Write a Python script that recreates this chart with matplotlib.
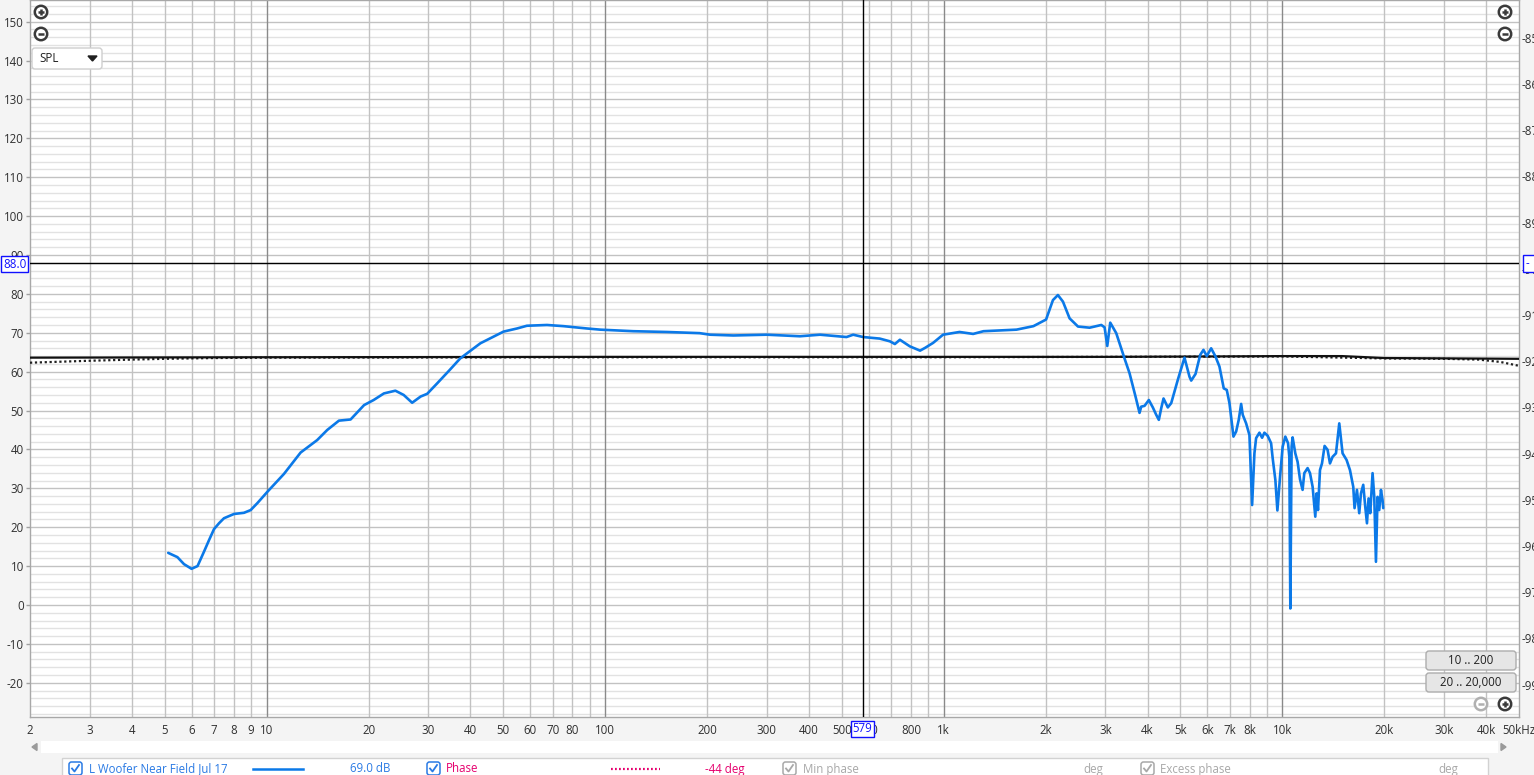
import matplotlib
matplotlib.use("Agg")
import matplotlib.pyplot as plt
from matplotlib.patches import FancyBboxPatch, Rectangle, Circle, Polygon

# ---------------- data ----------------
freq_hz = [5.12, 5.45, 5.70, 6.00, 6.25, 6.53, 6.76, 6.99, 7.23, 7.48, 8.01, 8.57, 8.97,
           9.39, 10.05, 11.25, 12.6, 14.1, 15.1, 16.35, 17.7, 19.4, 20.7, 22.2, 24.0,
           25.4, 26.9, 28.5, 29.8, 31.9, 34.7, 37.3, 42.8, 50.1, 54.9, 58.7, 67.3,
           75.3, 88.3, 96.6, 121, 152, 190, 204, 239, 300, 376, 431, 516, 540, 578,
           647, 693, 717, 742, 794, 851, 880, 930, 995, 1113, 1221, 1310, 1640, 1840,
           2005, 2101, 2173, 2249, 2353, 2491, 2696, 2919, 2985, 3040, 3102, 3231,
           3418, 3537, 3684, 3786, 3830, 3917, 4033, 4144, 4241, 4317, 4388, 4457,
           4589, 4696, 4912, 5140, 5318, 5380, 5540, 5719, 5848, 5980, 6162, 6345,
           6520, 6713, 6852, 6979, 7171, 7303, 7433, 7556, 7638, 7816, 7994, 8141,
           8270, 8365, 8556, 8713, 8851, 9051, 9263, 9364, 9537, 9668, 9845, 10020,
           10205, 10395, 10486, 10558, 10650, 10723, 10920, 11093, 11276, 11476,
           11610, 11873, 12069, 12285, 12511, 12623, 12743, 12917, 13094, 13328,
           13601, 13825, 14073, 14401, 14727, 15062, 15476, 15837, 16196, 16340,
           16609, 16869, 17068, 17335, 17572, 17780, 17973, 18182, 18470, 18684,
           18900, 19106, 19328, 19555, 19767, 19860]
spl_db = [13.4, 12.3, 10.5, 9.3, 10.0, 13.7, 16.7, 19.5, 21.0, 22.3, 23.4, 23.7, 24.4,
          26.2, 29.1, 33.7, 39.2, 42.4, 45.0, 47.4, 47.7, 51.4, 52.7, 54.4, 55.1,
          54.0, 52.0, 53.6, 54.3, 57.0, 60.4, 63.4, 67.3, 70.3, 71.1, 71.8, 72.0,
          71.7, 71.1, 70.8, 70.4, 70.2, 69.9, 69.5, 69.3, 69.5, 69.1, 69.5, 68.9,
          69.5, 68.9, 68.5, 67.8, 67.1, 68.2, 66.5, 65.4, 66.1, 67.4, 69.5, 70.2,
          69.7, 70.4, 70.8, 71.7, 73.4, 78.4, 79.7, 78.0, 73.7, 71.6, 71.3, 72.0,
          71.4, 66.6, 72.6, 69.9, 63.4, 59.6, 53.6, 49.4, 51.0, 51.2, 52.7, 50.8,
          48.9, 47.6, 50.6, 53.1, 50.8, 51.9, 57.9, 63.6, 58.7, 57.7, 59.4, 64.3,
          65.6, 64.0, 66.0, 63.9, 61.3, 55.7, 55.3, 51.9, 43.3, 44.6, 47.6, 51.7,
          48.9, 46.7, 43.7, 25.7, 39.0, 42.9, 44.3, 43.0, 44.3, 43.5, 41.6, 37.7,
          32.1, 24.3, 33.0, 40.7, 43.3, 41.6, 38.1, -0.9, 40.7, 43.1, 39.0, 36.8,
          32.3, 29.6, 33.9, 35.2, 33.9, 30.4, 22.7, 28.7, 24.4, 34.7, 36.4, 40.9,
          39.9, 36.4, 38.1, 39.0, 46.7, 39.0, 37.3, 34.7, 30.4, 24.9, 29.6, 23.6,
          28.7, 30.9, 25.3, 21.0, 27.4, 23.6, 33.9, 27.8, 11.1, 27.8, 24.4, 29.6,
          27.0, 24.9]

ref_freq = [2, 10, 100, 1000, 3000, 6000, 10000, 15000, 20000, 50000]
ref_db = [63.6, 63.7, 63.8, 63.8, 63.8, 63.9, 64.0, 64.0, 63.5, 63.3]
dot_freq = [2, 3, 4, 5, 7, 10, 100, 1000, 10000, 20000, 30000, 38000, 44000, 50000]
dot_db = [62.3, 62.8, 63.1, 63.3, 63.5, 63.6, 63.7, 63.7, 63.9, 63.4, 63.3, 63.1, 62.5, 61.5]

y_ticks = list(range(-20, 151, 10))
x_label_freqs = [2, 3, 4, 5, 6, 7, 8, 9, 10, 20, 30, 40, 50, 60, 70, 80, 100, 200, 300,
                 400, 500, 600, 800, 1000, 2000, 3000, 4000, 5000, 6000, 7000, 8000,
                 10000, 20000, 30000, 40000, 50000]
x_label_text = ['2', '3', '4', '5', '6', '7', '8', '9', '10', '20', '30', '40', '50', '60',
                '70', '80', '100', '200', '300', '400', '500', '600', '800', '1k', '2k',
                '3k', '4k', '5k', '6k', '7k', '8k', '10k', '20k', '30k', '40k', '50kHz']
right_ticks = [-85, -86, -87, -88, -89, -90, -91, -92, -93, -94, -95, -96, -97, -98, -99]
cursor_db = 88.0
cursor_hz = 579

# ---------------- figure ----------------
W, H = 1534, 775
plt.rcParams['font.family'] = ['Open Sans', 'DejaVu Sans']
fig = plt.figure(figsize=(W / 100, H / 100), dpi=100, facecolor='#f4f4f4')

L, R, T, B = 30, 1519, 0, 717
ax = fig.add_axes([L / W, (H - B) / H, (R - L) / W, (B - T) / H])
ax.set_facecolor('white')
ax.set_xscale('log')
ax.set_xlim(2, 50000)
ax.set_ylim(-28.81, 155.57)

# grid
for v in range(-28, 156, 2):
    if v % 10 == 0:
        ax.axhline(v, color='#c2c2c2', lw=1.0, zorder=1)
    else:
        ax.axhline(v, color='#e2e2e2', lw=1.0, zorder=0.5)
for dec in [1, 10, 100, 1000, 10000]:
    for m in range(1, 10):
        f = dec * m
        if f <= 2 or f >= 50000:
            continue
        if m == 1:
            ax.axvline(f, color='#8a8a8a', lw=1.0, zorder=1.2)
        else:
            ax.axvline(f, color='#c2c2c2', lw=1.0, zorder=1.1)

ax.set_xticks(x_label_freqs)
ax.set_xticklabels(x_label_text)
ax.xaxis.set_minor_locator(matplotlib.ticker.NullLocator())
ax.set_yticks(y_ticks)
ax.set_yticklabels([str(v) for v in y_ticks])
ax.tick_params(axis='x', length=0, pad=5, labelsize=8.3, colors='#303030')
ax.tick_params(axis='y', length=3, width=1, pad=1.5, labelsize=8.3, colors='#303030')
ax.tick_params(axis='y', color='#a0a0a0')
for s in ax.spines.values():
    s.set_color('#a8a8a8')
    s.set_linewidth(1)

# reference lines
ax.plot(dot_freq, dot_db, color='#202020', lw=1.6, ls=(0, (1, 1.2)), zorder=3)
ax.plot(ref_freq, ref_db, color='#111111', lw=1.6, zorder=3.1)

# measurement
ax.plot(freq_hz, spl_db, color='#0b79e8', lw=1.9, zorder=5,
        solid_joinstyle='round', solid_capstyle='round')

# cursors
ax.axhline(cursor_db, color='black', lw=1.0, zorder=6)
ax.axvline(cursor_hz, color='black', lw=1.0, zorder=6)

# right axis
tw = ax.twinx()
tw.set_ylim(-99.70, -84.18)
tw.set_yticks(right_ticks)
tw.set_yticklabels([str(v) for v in right_ticks])
tw.tick_params(axis='y', length=0, pad=2, labelsize=8.3, colors='#303030')
for s in tw.spines.values():
    s.set_visible(False)

# ---------------- overlay UI ----------------
ov = fig.add_axes([0, 0, 1, 1], zorder=20)
ov.set_xlim(0, W)
ov.set_ylim(H, 0)
ov.axis('off')


def zoom_icon(x, y, plus=True, col='#3a3a3a'):
    ov.add_patch(Circle((x, y), 6.2, facecolor='white', edgecolor=col, lw=1.8))
    ov.plot([x - 3.2, x + 3.2], [y, y], color=col, lw=1.8, solid_capstyle='butt')
    if plus:
        ov.plot([x, x], [y - 3.2, y + 3.2], color=col, lw=1.8, solid_capstyle='butt')


zoom_icon(41, 12, True)
zoom_icon(41, 34, False)
zoom_icon(1505, 12, True)
zoom_icon(1505, 34, False)
zoom_icon(1481, 704, False, col='#b0b0b0')
zoom_icon(1505, 704, True)

# SPL dropdown
ov.add_patch(FancyBboxPatch((32, 48), 70, 21, boxstyle='round,pad=0,rounding_size=3',
                            facecolor='white', edgecolor='#cfcfcf', lw=1))
ov.text(39, 59, 'SPL', fontsize=8.3, va='center', ha='left', color='#202020')
ov.add_patch(Polygon([[88, 56], [97, 56], [92.5, 61]], closed=True, color='#202020'))

# range buttons
for yb, lab in [(651, '10 .. 200'), (673, '20 .. 20,000')]:
    ov.add_patch(FancyBboxPatch((1426, yb), 90, 19, boxstyle='round,pad=0,rounding_size=3',
                                facecolor='#e6e6e6', edgecolor='#adadad', lw=1))
    ov.text(1471, yb + 9.8, lab, fontsize=8.3, ha='center', va='center', color='#202020')

# cursor value boxes
ov.text(14.5, 264, '88.0', fontsize=8.3, ha='center', va='center', color='#1010ff',
        bbox=dict(boxstyle='square,pad=0.15', facecolor='white', edgecolor='#1010ff', lw=1))
ov.text(862.5, 729, '579', fontsize=8.3, ha='center', va='center', color='#1010ff',
        bbox=dict(boxstyle='square,pad=0.15', facecolor='white', edgecolor='#1010ff', lw=1))
ov.add_patch(Rectangle((1523, 255), 14, 17, facecolor='white', edgecolor='#1010ff', lw=1))
ov.text(1526, 264, '-', fontsize=8.3, ha='left', va='center', color='#1010ff')

# scroll bar
ov.add_patch(Rectangle((41, 741), 1457, 12, facecolor='white', edgecolor='none'))
ov.add_patch(Polygon([[32, 747], [37, 743.5], [37, 750.5]], closed=True, color='#9a9a9a'))
ov.add_patch(Polygon([[1506, 747], [1501, 743.5], [1501, 750.5]], closed=True, color='#9a9a9a'))

# legend panel
ov.add_patch(Rectangle((62, 757.5), 1426, 30, facecolor='white', edgecolor='#d2d2d2', lw=1))


def checkbox(x, y, col):
    ov.add_patch(FancyBboxPatch((x, y - 7), 13, 13, boxstyle='round,pad=0,rounding_size=2.5',
                                facecolor='white', edgecolor=col, lw=1.1))
    ov.plot([x + 3, x + 5.5, x + 10], [y - 0.5, y + 2.5, y - 4], color=col, lw=1.3)


blue_t = '#2a7ae4'
mag = '#e6006e'
grey = '#a8a8a8'
checkbox(69, 769, blue_t)
ov.text(89, 769, 'L Woofer Near Field Jul 17', fontsize=8.3, va='center', color=blue_t)
ov.plot([253, 303], [769, 769], color='#0b79e8', lw=1.8)
ov.text(350, 769, '69.0 dB', fontsize=8.3, va='center', color=blue_t)
checkbox(427, 769, blue_t)
ov.text(446, 769, 'Phase', fontsize=8.3, va='center', color=mag)
ov.plot([611, 660], [769, 769], color=mag, lw=1.6, ls=(0, (0.8, 1.0)))
ov.text(705, 769, '-44 deg', fontsize=8.3, va='center', color=mag)
checkbox(783, 769, grey)
ov.text(803, 769, 'Min phase', fontsize=8.3, va='center', color=grey)
ov.text(1083, 769, 'deg', fontsize=8.3, va='center', color=grey)
checkbox(1141, 769, grey)
ov.text(1160, 769, 'Excess phase', fontsize=8.3, va='center', color=grey)
ov.text(1438, 769, 'deg', fontsize=8.3, va='center', color=grey)

fig.savefig('out.png', dpi=100, facecolor=fig.get_facecolor())
